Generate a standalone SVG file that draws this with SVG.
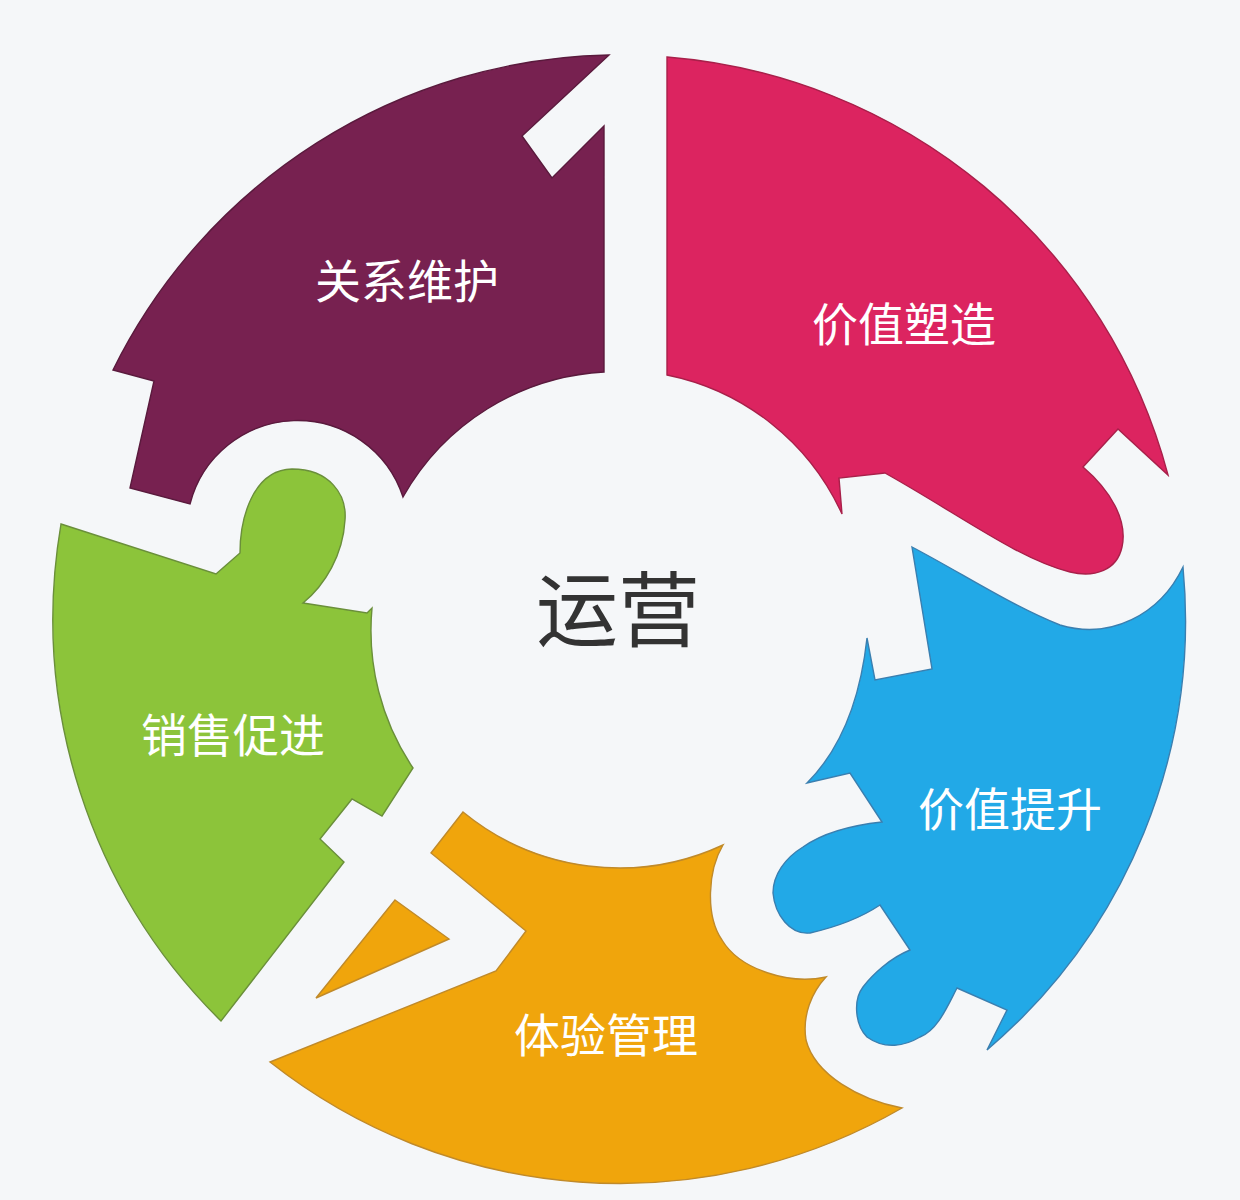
<svg xmlns="http://www.w3.org/2000/svg" width="1240" height="1200" viewBox="0 0 1240 1200">
<style>
.piece{stroke-width:1.4;stroke-linejoin:miter}
.lbl{font-family:"Noto Sans CJK SC","Noto Sans",sans-serif;font-size:46px;fill:#ffffff;text-anchor:middle;dominant-baseline:central}
.hub{font-family:"Noto Sans CJK SC","Noto Sans",sans-serif;font-size:82px;fill:#333333;text-anchor:middle;dominant-baseline:central}
</style>
<rect width="1240" height="1200" fill="#f5f7f9"/>
<g id="piece-relation">
<path class="piece" fill="#772150" stroke="#5a1a3d" d="M609,55 L522,136 L552,178 L604,126 L604,372 A246,246 0 0 0 403,497 A111,111 0 0 0 190,504 L130,488 L154,381 L113,370 A565,565 0 0 1 609,55 Z"/>
<text class="lbl" x="407" y="278">关系维护</text>
</g>
<g id="piece-value-shape">
<path class="piece" fill="#dc2460" stroke="#a8204a" d="M667,57 A565,565 0 0 1 1168,475 L1118,429 L1083,467 C1110,490 1128,520 1122,547 C1117,570 1095,578 1070,572 C1020,560 960,515 885,473 L839,478 L842,514 A246,246 0 0 0 667,375 Z"/>
<text class="lbl" x="904" y="321">价值塑造</text>
</g>
<g id="piece-value-up">
<path class="piece" fill="#22a9e7" stroke="#3a7fb0" d="M912,547 C960,572 1010,605 1060,625 C1110,640 1160,615 1183,567 A565,565 0 0 1 987,1050 L1007,1010 L957,988 C948,1005 938,1030 920,1037 C905,1046 885,1050 867,1037 C855,1025 853,1000 863,987 C872,975 890,958 910,950 L880,905 C865,915 845,925 810,933 C790,935 775,915 773,893 C773,875 785,858 803,847 C820,835 845,826 882,822 L850,773 L807,783 C830,760 858,720 867,638 L875,680 L932,669 Z"/>
<text class="lbl" x="1010" y="806">价值提升</text>
</g>
<g id="piece-experience">
<path class="piece" fill="#f0a50c" stroke="#c08a2a" d="M463,812 L431,853 L526,931 L496,971 L270,1062 A565,565 0 0 0 902,1108 C860,1100 815,1075 806,1040 C802,1015 812,992 826,977 C790,985 740,970 722,940 C705,915 708,870 723,845 A246,246 0 0 1 463,812 Z"/>
<path class="piece" fill="#f0a50c" stroke="#c08a2a" d="M395,900 L449,939 L316,998 Z"/>
<text class="lbl" x="606" y="1032">体验管理</text>
</g>
<g id="piece-sales">
<path class="piece" fill="#8cc43a" stroke="#6a8f3a" d="M61,524 L216,574 L240,553 C240,520 252,470 292,469 C330,469 347,495 345,520 C343,555 325,585 303,603 L367,613 L372,608 A246,246 0 0 0 413,768 L382,816 L352,799 L320,839 L344,862 L221,1021 A565,565 0 0 1 61,524 Z"/>
<text class="lbl" x="233" y="732">销售促进</text>
</g>
<g id="hub">
<text class="hub" x="618" y="604">运营</text>
</g>
<g id="connectors"/>
</svg>
